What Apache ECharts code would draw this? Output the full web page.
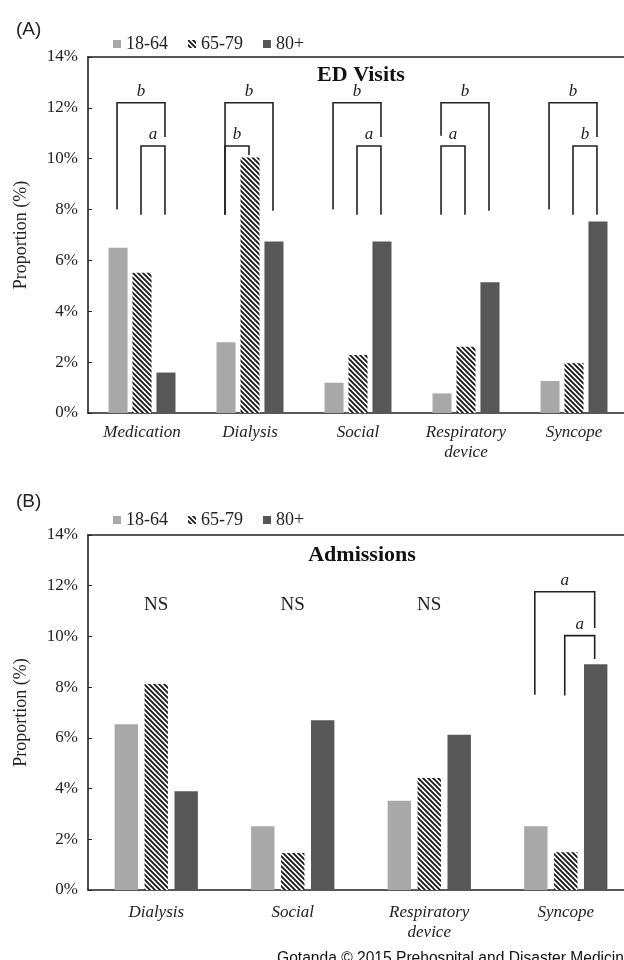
<!DOCTYPE html>
<html>
<head>
<meta charset="utf-8">
<script src="https://cdn.jsdelivr.net/npm/echarts@6/dist/echarts.min.js"></script>
<style>html,body{margin:0;padding:0;background:#fff;overflow:hidden;width:624px;height:960px}#c{width:660px;height:960px}</style>
</head>
<body>
<div id="c"></div>
<script>
// ---------- data ----------
const seriesNames = ['18-64', '65-79', '80+'];
const yTickValues = [0, 2, 4, 6, 8, 10, 12, 14];

// Panel A: ED visits
const categoriesA = ['Medication', 'Dialysis', 'Social', 'Respiratory\ndevice', 'Syncope'];
const edVisits1864 = [6.5, 2.78, 1.19, 0.77, 1.26];
const edVisits6579 = [5.52, 10.05, 2.28, 2.61, 1.96];
const edVisits80 = [1.59, 6.74, 6.74, 5.14, 7.53];
// brackets: [categoryIndex, top, leftLegBottom, rightLegBottom, fromBar, toBar]
const bracketsA = [
  [0, 12.2, 8.0, 10.85, 0, 2], [0, 10.5, 7.8, 7.8, 1, 2],
  [1, 12.2, 7.8, 7.95, 0, 2], [1, 10.5, 7.8, 10.15, 0, 1],
  [2, 12.2, 8.0, 10.85, 0, 2], [2, 10.5, 7.8, 7.8, 1, 2],
  [3, 12.2, 10.9, 7.95, 0, 2], [3, 10.5, 7.8, 7.8, 0, 1],
  [4, 12.2, 8.0, 10.85, 0, 2], [4, 10.5, 7.8, 7.8, 1, 2]
];
const bracketLabelsA = ['b', 'a', 'b', 'b', 'b', 'a', 'b', 'a', 'b', 'b'];

// Panel B: Admissions
const categoriesB = ['Dialysis', 'Social', 'Respiratory\ndevice', 'Syncope'];
const adm1864 = [6.54, 2.51, 3.52, 2.51];
const adm6579 = [8.12, 1.46, 4.42, 1.49];
const adm80 = [3.89, 6.69, 6.12, 8.9];
const bracketsB = [
  [3, 11.76, 7.7, 10.33, 0, 2], [3, 10.03, 7.67, 9.11, 1, 2]
];
const bracketLabelsB = ['a', 'a'];
const nsLabelsB = [[0, 11.25], [1, 11.25], [2, 11.25]];
const nsText = 'NS';

// ---------- style ----------
const SERIF = '"Liberation Serif", "DejaVu Serif", serif';
const SANS = '"Liberation Sans", Arial, sans-serif';
const INK = '#222';
const LIGHT = '#a8a8a8';
const DARK = '#575757';

function hatch() {
  const s = 5;
  const c = document.createElement('canvas');
  c.width = s; c.height = s;
  const g = c.getContext('2d');
  g.fillStyle = '#fff'; g.fillRect(0, 0, s, s);
  g.strokeStyle = '#1a1a1a'; g.lineWidth = 1.9;
  g.beginPath();
  g.moveTo(-1, -1); g.lineTo(s + 1, s + 1);
  g.moveTo(-1, s - 1); g.lineTo(1, s + 1);
  g.moveTo(s - 1, -1); g.lineTo(s + 1, 1);
  g.stroke();
  return c;
}
const HATCH = { image: hatch(), repeat: 'repeat' };

const panelCfg = [
  { catGap: 0.38, barGap: 0.26 },
  { catGap: 0.39, barGap: 0.28 }
];

function bracketRender(cfg, labels) {
  return function (params, api) {
    const cat = api.value(0);
    const catW = api.size([1, 0])[0];
    const groupW = catW * (1 - cfg.catGap);
    const bw = groupW / (3 + 2 * cfg.barGap);
    const step = bw * (1 + cfg.barGap);
    const cx = api.coord([cat, 0])[0];
    const xL = cx + (api.value(4) - 1) * step - 1;
    const xR = cx + (api.value(5) - 1) * step - 1;
    const yT = api.coord([cat, api.value(1)])[1];
    const yLb = api.coord([cat, api.value(2)])[1];
    const yRb = api.coord([cat, api.value(3)])[1];
    return {
      type: 'group',
      children: [
        { type: 'polyline', shape: { points: [[xL, yLb], [xL, yT], [xR, yT], [xR, yRb]] },
          style: { stroke: INK, lineWidth: 1.6, fill: null } },
        { type: 'text', x: (xL + xR) / 2, y: yT - 3,
          style: { text: labels[params.dataIndex], font: 'italic 17px ' + SERIF, fill: INK,
                   align: 'center', verticalAlign: 'bottom' } }
      ]
    };
  };
}
function nsRender(params, api) {
  const p = api.coord([api.value(0), api.value(1)]);
  return { type: 'text', x: p[0], y: p[1],
    style: { text: nsText, font: '19px ' + SERIF, fill: INK, align: 'center', verticalAlign: 'middle' } };
}

function xAxes(gi, cats, margin) {
  return [
    { type: 'category', gridIndex: gi, data: cats, position: 'bottom',
      axisLine: { lineStyle: { color: INK, width: 1.6 } }, axisTick: { show: false },
      axisLabel: { fontFamily: SERIF, fontStyle: 'italic', fontSize: 17, color: INK, margin: margin, lineHeight: 20, interval: 0 } },
    { type: 'category', gridIndex: gi, data: cats, position: 'top',
      axisLine: { lineStyle: { color: INK, width: 1.6 } }, axisTick: { show: false }, axisLabel: { show: false } }
  ];
}
function yAxis(gi) {
  return { type: 'value', gridIndex: gi, min: yTickValues[0], max: yTickValues[yTickValues.length - 1],
    interval: yTickValues[1] - yTickValues[0],
    name: 'Proportion (%)', nameLocation: 'middle', nameRotate: 90, nameGap: 58,
    nameTextStyle: { fontFamily: SERIF, fontSize: 18, color: INK },
    axisLine: { show: true, lineStyle: { color: INK, width: 1.6 } },
    axisTick: { show: true, inside: true, length: 4, lineStyle: { color: INK } },
    splitLine: { show: false },
    axisLabel: { formatter: '{value}%', fontFamily: SERIF, fontSize: 17, color: INK, margin: 10 } };
}
function bars(gi, cfg, d1, d2, d3) {
  const xi = gi * 2;
  const common = { type: 'bar', xAxisIndex: xi, yAxisIndex: gi, barCategoryGap: (cfg.catGap * 100) + '%', barGap: (cfg.barGap * 100) + '%', silent: true };
  return [
    Object.assign({ name: seriesNames[0], data: d1, itemStyle: { color: LIGHT } }, common),
    Object.assign({ name: seriesNames[1], data: d2, itemStyle: { color: HATCH } }, common),
    Object.assign({ name: seriesNames[2], data: d3, itemStyle: { color: DARK } }, common)
  ];
}

const legendBase = { data: seriesNames, icon: 'rect', itemWidth: 8, itemHeight: 8, itemGap: 20,
  textStyle: { fontFamily: SERIF, fontSize: 18, color: INK }, selectedMode: false };

const option = {
  animation: false,
  backgroundColor: '#fff',
  title: [
    { text: '(A)', left: 11, top: 15, textStyle: { fontFamily: SANS, fontSize: 19, fontWeight: 'normal', color: INK } },
    { text: '(B)', left: 11, top: 487, textStyle: { fontFamily: SANS, fontSize: 19, fontWeight: 'normal', color: INK } },
    { text: 'ED Visits', left: 356, textAlign: 'center', top: 59, textStyle: { fontFamily: SERIF, fontSize: 22, fontWeight: 'bold', color: '#111' } },
    { text: 'Admissions', left: 357, textAlign: 'center', top: 539, textStyle: { fontFamily: SERIF, fontSize: 22, fontWeight: 'bold', color: '#111' } },
    { text: 'Gotanda \u00a9 2015 Prehospital and Disaster Medicine', left: 272, top: 946, textStyle: { fontFamily: SANS, fontSize: 15.6, fontWeight: 'normal', color: '#111' } }
  ],
  legend: [
    Object.assign({ left: 108, top: 30 }, legendBase),
    Object.assign({ left: 108, top: 506 }, legendBase)
  ],
  grid: [
    { left: 88, top: 57, width: 540, height: 356 },
    { left: 88, top: 535, width: 546, height: 355 }
  ],
  xAxis: xAxes(0, categoriesA, 10).concat(xAxes(1, categoriesB, 13)),
  yAxis: [yAxis(0), yAxis(1)],
  series: [].concat(
    bars(0, panelCfg[0], edVisits1864, edVisits6579, edVisits80),
    bars(1, panelCfg[1], adm1864, adm6579, adm80),
    [
      { type: 'custom', xAxisIndex: 0, yAxisIndex: 0, data: bracketsA, encode: { x: 0, y: [1, 2, 3] },
        renderItem: bracketRender(panelCfg[0], bracketLabelsA), silent: true, z: 5 },
      { type: 'custom', xAxisIndex: 2, yAxisIndex: 1, data: bracketsB, encode: { x: 0, y: [1, 2, 3] },
        renderItem: bracketRender(panelCfg[1], bracketLabelsB), silent: true, z: 5 },
      { type: 'custom', xAxisIndex: 2, yAxisIndex: 1, data: nsLabelsB, encode: { x: 0, y: 1 },
        renderItem: nsRender, silent: true, z: 5 }
    ]
  )
};

const chart = echarts.init(document.getElementById('c'), null, { renderer: 'canvas' });
chart.setOption(option);
</script>
</body>
</html>
